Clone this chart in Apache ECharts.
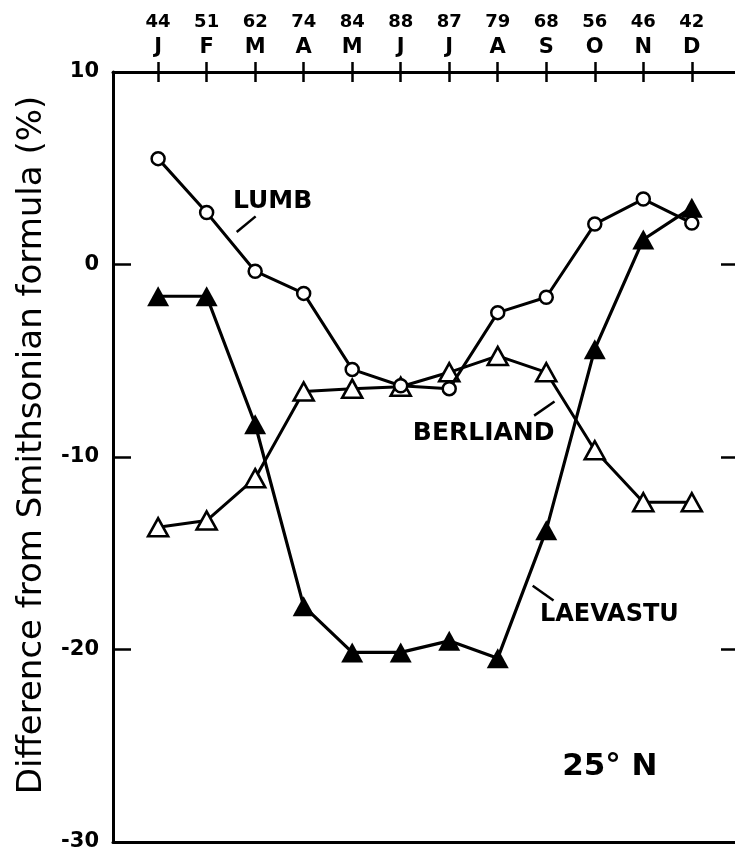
<!DOCTYPE html>
<html>
<head>
<meta charset="utf-8">
<script src="https://cdn.jsdelivr.net/npm/echarts@6/dist/echarts.min.js"></script>
<style>
  html, body { margin: 0; padding: 0; background: #fff; }
  #chart { width: 735px; height: 854px; }
</style>
</head>
<body>
<div id="chart"></div>
<script>
// Monthly labels along the top axis
const months = ['J', 'F', 'M', 'A', 'M', 'J', 'J', 'A', 'S', 'O', 'N', 'D'];
const counts = [44, 51, 62, 74, 84, 88, 87, 79, 68, 56, 46, 42];

// Percent difference from the Smithsonian formula, by month
const lumb     = [5.5, 2.7, -0.35, -1.5, -5.45, -6.3, -6.45, -2.5, -1.7, 2.1, 3.4, 2.15];
const berliand = [-13.65, -13.3, -11.1, -6.6, -6.45, -6.35, -5.6, -4.75, -5.6, -9.65, -12.35, -12.35];
const laevastu = [-1.65, -1.65, -8.3, -17.75, -20.15, -20.15, -19.55, -20.45, -13.8, -4.4, 1.3, 2.95];

const FONT = 'DejaVu Sans';
const monthIdx = months.map((_, i) => i + 1);
const pairs = arr => arr.map((v, i) => [i + 1, v]);

const chart = echarts.init(document.getElementById('chart'), null, { renderer: 'canvas' });

// Month axis: a little margin on the left, open on the right
const baseX = {
  type: 'value', min: 0.07, max: 12.89,
  splitLine: { show: false }
};

const option = {
  backgroundColor: '#fff',
  animation: false,
  grid: { left: 113, top: 72, width: 622, height: 770 },
  xAxis: [
    Object.assign({}, baseX, {
      position: 'top',
      axisLine: { show: true, onZero: false, lineStyle: { color: '#000', width: 3 } },
      axisTick: { show: true, inside: false, length: 10, customValues: monthIdx, lineStyle: { color: '#000', width: 2.5 } },
      axisLabel: {
        show: true, customValues: monthIdx, margin: 12,
        formatter: v => '{n|' + counts[v - 1] + '}\n{m|' + months[v - 1] + '}',
        rich: {
          n: { fontFamily: FONT, fontSize: 18, fontWeight: 'bold', color: '#000', lineHeight: 25 },
          m: { fontFamily: FONT, fontSize: 21, fontWeight: 'bold', color: '#000', lineHeight: 25 }
        }
      }
    }),
    Object.assign({}, baseX, {
      position: 'top',
      axisLine: { show: false, onZero: false },
      axisTick: { show: true, inside: true, length: 10, customValues: monthIdx, lineStyle: { color: '#000', width: 2.5 } },
      axisLabel: { show: false }
    }),
    Object.assign({}, baseX, {
      position: 'bottom',
      axisLine: { show: true, onZero: false, lineStyle: { color: '#000', width: 3 } },
      axisTick: { show: false },
      axisLabel: { show: false }
    })
  ],
  yAxis: [
    {
      type: 'value', min: -30, max: 10, interval: 10, position: 'left',
      name: 'Difference from Smithsonian formula (%)',
      nameLocation: 'middle', nameRotate: 90, nameGap: 64,
      nameTextStyle: { fontFamily: FONT, fontSize: 34, color: '#000', padding: [0, 0, 0, 24] },
      axisLine: { show: true, onZero: false, lineStyle: { color: '#000', width: 3 } },
      axisTick: { show: true, inside: true, length: 18, lineStyle: { color: '#000', width: 2.5 } },
      axisLabel: { fontFamily: FONT, fontSize: 21, fontWeight: 'bold', color: '#000', margin: 14 },
      splitLine: { show: false }
    },
    {
      type: 'value', min: -30, max: 10, interval: 10, position: 'right',
      axisLine: { show: false, onZero: false },
      axisTick: { show: true, inside: true, length: 14, lineStyle: { color: '#000', width: 2.5 } },
      axisLabel: { show: false },
      splitLine: { show: false }
    }
  ],
  series: [
    {
      name: 'BERLIAND', type: 'line', data: pairs(berliand),
      symbol: 'triangle', symbolSize: [20, 18],
      lineStyle: { color: '#000', width: 3 },
      itemStyle: { color: '#fff', borderColor: '#000', borderWidth: 2.6 },
      z: 3
    },
    {
      name: 'LUMB', type: 'line', data: pairs(lumb),
      symbol: 'circle', symbolSize: 13,
      lineStyle: { color: '#000', width: 3 },
      itemStyle: { color: '#fff', borderColor: '#000', borderWidth: 2.5 },
      z: 4
    },
    {
      name: 'LAEVASTU', type: 'line', data: pairs(laevastu),
      symbol: 'triangle', symbolSize: [22, 20],
      lineStyle: { color: '#000', width: 3.2 },
      itemStyle: { color: '#000', borderColor: '#000', borderWidth: 0 },
      z: 5
    }
  ]
};

chart.setOption(option);

// Series labels with leader lines, placed in data units
const notes = [
  { text: 'LUMB',     at: [3.36, 3.27],   lead: [[2.62, 1.69], [3.01, 2.5]],      size: 25 },
  { text: 'BERLIAND', at: [7.71, -8.78],  lead: [[8.75, -7.85], [9.17, -7.12]],   size: 25 },
  { text: 'LAEVASTU', at: [10.3, -18.22], lead: [[8.72, -16.69], [9.15, -17.45]], size: 24 },
  { text: '25° N',    at: [10.31, -26.1], lead: null,                             size: 31 }
];

const px = p => chart.convertToPixel({ xAxisIndex: 0, yAxisIndex: 0 }, p);
const graphics = [];
notes.forEach(n => {
  const c = px(n.at);
  graphics.push({
    type: 'text', x: c[0], y: c[1], z: 10,
    style: { text: n.text, fontFamily: FONT, fontSize: n.size, fontWeight: 'bold', fill: '#000', align: 'center', verticalAlign: 'middle' }
  });
  if (n.lead) {
    const a = px(n.lead[0]), b = px(n.lead[1]);
    graphics.push({
      type: 'line', z: 10,
      shape: { x1: a[0], y1: a[1], x2: b[0], y2: b[1] },
      style: { stroke: '#000', lineWidth: 2.5 }
    });
  }
});
chart.setOption({ graphic: graphics });
</script>
</body>
</html>
